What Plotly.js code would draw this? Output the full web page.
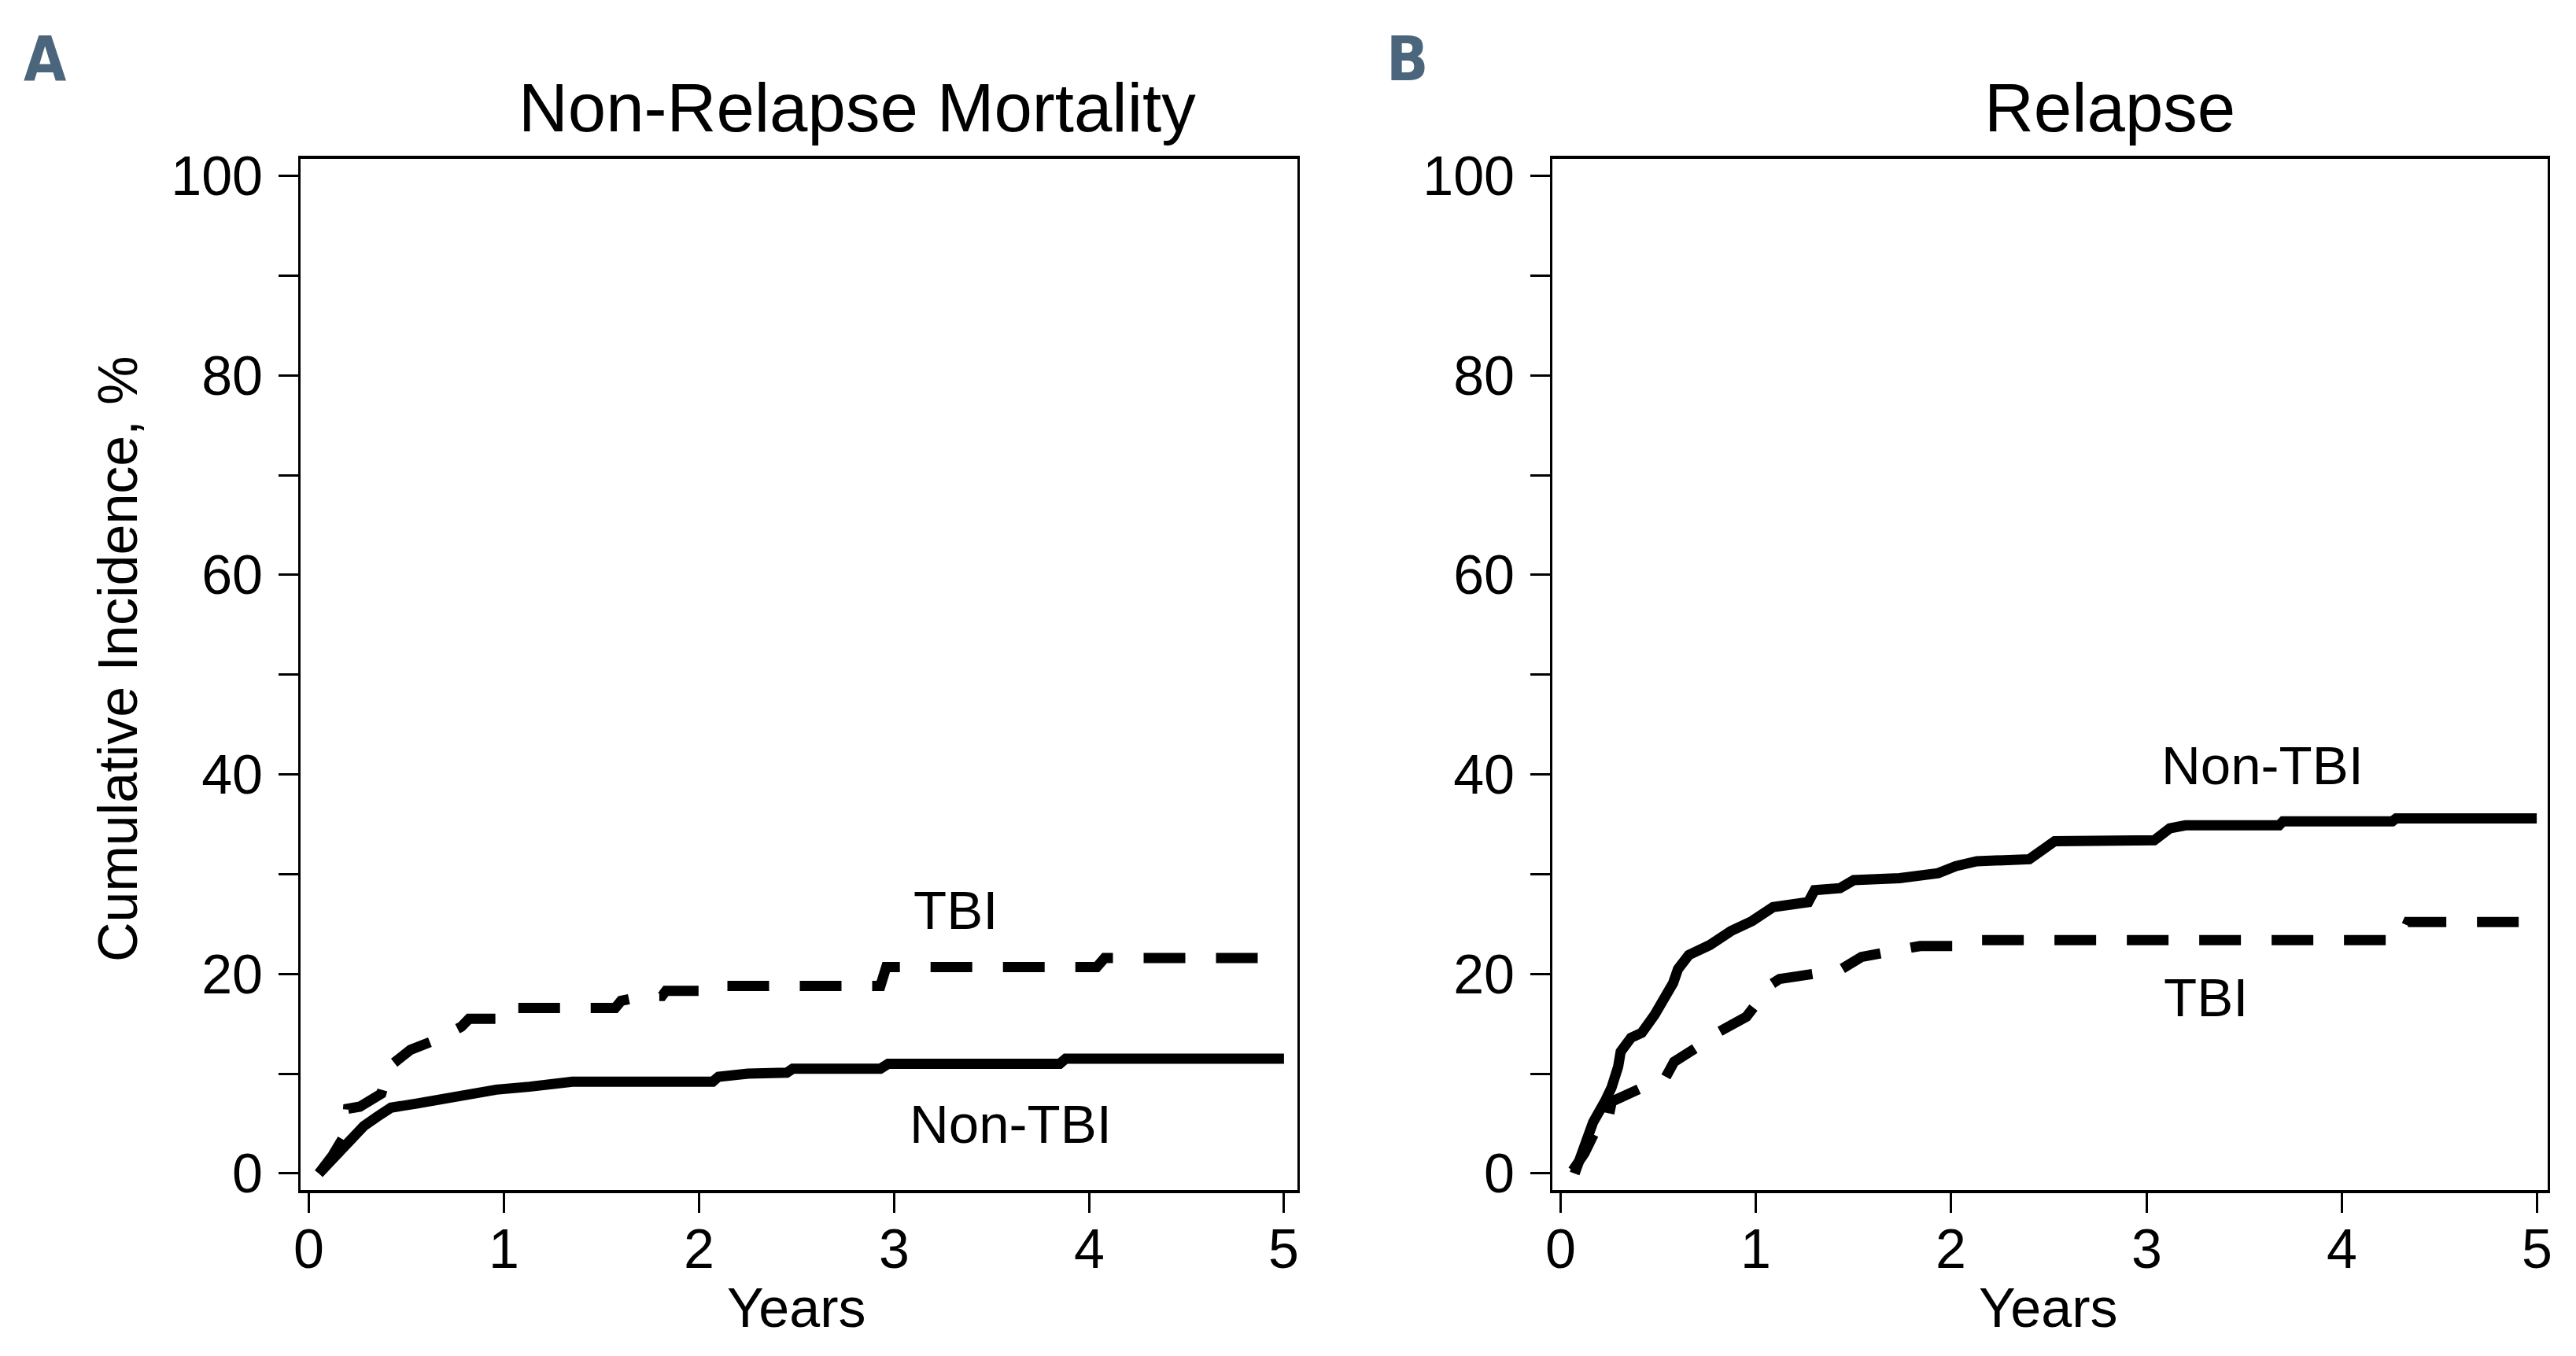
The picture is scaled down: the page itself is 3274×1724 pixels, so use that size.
<!DOCTYPE html>
<html>
<head>
<meta charset="utf-8">
<script src="https://cdn.plot.ly/plotly-3.0.1.min.js"></script>
<style>html,body{margin:0;padding:0;background:#fff;}#chart{width:3274px;height:1724px;}</style>
</head>
<body>
<div id="chart"></div>
<script>
// Panel A: Non-Relapse Mortality
const nrmYearsNonTBI = [0.05,0.11,0.19,0.28,0.35,0.42,0.55,0.69,0.82,0.96,1.13,1.26,1.35,2.07,2.10,2.25,2.45,2.48,2.93,2.97,3.85,3.88,5.0];
const nrmNonTBI      = [0,1.2,3.1,4.75,5.7,6.6,7.0,7.5,8.0,8.4,8.7,9.0,9.2,9.2,9.7,10.0,10.1,10.5,10.5,11.0,11.0,11.5,11.5];
const nrmYearsTBI = [0.05,0.12,0.19,0.20,0.26,0.37,0.41,0.52,0.65,0.78,0.82,0.98,1.00,1.57,1.60,1.72,1.81,1.83,2.02,2.05,2.93,2.96,4.04,4.08,5.0];
const nrmTBI      = [0,1.8,4.1,6.5,6.7,8.0,10.7,12.4,13.4,14.7,15.5,15.5,16.6,16.6,17.3,17.8,17.8,18.3,18.3,18.8,18.8,20.7,20.7,21.6,21.6];

// Panel B: Relapse
const relYearsNonTBI = [0.07,0.117,0.165,0.226,0.259,0.293,0.306,0.359,0.414,0.48,0.535,0.575,0.60,0.655,0.763,0.871,0.979,1.087,1.267,1.30,1.43,1.50,1.735,1.933,2.023,2.131,2.40,2.49,2.53,3.04,3.12,3.20,3.68,3.70,4.26,4.28,5.0];
const relNonTBI      = [0,2.3,5.15,7.25,8.6,10.7,12.2,13.6,14.1,15.9,17.8,19.1,20.5,21.9,22.9,24.3,25.3,26.7,27.2,28.4,28.6,29.4,29.6,30.1,30.8,31.3,31.5,32.8,33.3,33.4,34.6,34.9,34.9,35.3,35.3,35.6,35.6];
const relYearsTBI = [0.06,0.12,0.17,0.23,0.26,0.37,0.45,0.53,0.58,0.71,0.80,0.95,1.02,1.08,1.12,1.27,1.43,1.54,1.70,1.84,2.04,2.15,4.30,4.34,5.0];
const relTBI      = [0.3,2.0,4.0,4.3,7.2,8.3,8.9,9.4,11.2,12.8,14.1,15.7,17.5,19.0,19.5,19.85,20.4,21.7,22.4,22.8,22.8,23.4,23.4,25.2,25.2];

const panelTitles = ["Non-Relapse Mortality", "Relapse"];
const panelLetters = ["A", "B"];
const yTickVals = [0,10,20,30,40,50,60,70,80,90,100];
const yTickText = ["0","","20","","40","","60","","80","","100"];
const xTickVals = [0,1,2,3,4,5];
const xTickText = ["0","1","2","3","4","5"];
const xTitle = "Years";
const yTitle = "Cumulative Incidence, %";
const groupLabels = ["TBI", "Non-TBI"];

const FONT = "Liberation Sans, Arial, Helvetica, sans-serif";
const solid = {color:"#000", width:13, dash:"solid"};
const dashed = {color:"#000", width:13, dash:"53px,39px"};

const traces = [
  {x:nrmYearsNonTBI, y:nrmNonTBI, mode:"lines", line:solid, xaxis:"x", yaxis:"y", name:"Non-TBI"},
  {x:nrmYearsTBI, y:nrmTBI, mode:"lines", line:dashed, xaxis:"x", yaxis:"y", name:"TBI"},
  {x:relYearsNonTBI, y:relNonTBI, mode:"lines", line:solid, xaxis:"x2", yaxis:"y2", name:"Non-TBI"},
  {x:relYearsTBI, y:relTBI, mode:"lines", line:dashed, xaxis:"x2", yaxis:"y2", name:"TBI"}
];

function xax(domain, range, anchor){
  return {domain:domain, range:range, anchor:anchor, showgrid:false, zeroline:false,
    showline:true, linecolor:"#000", linewidth:4, mirror:true,
    ticks:"outside", ticklen:25, tickwidth:3, tickcolor:"#000",
    tickvals:xTickVals, showticklabels:false, fixedrange:true};
}
function yax(domain, range, anchor){
  return {domain:domain, range:range, anchor:anchor, showgrid:false, zeroline:false,
    showline:true, linecolor:"#000", linewidth:3, mirror:true,
    ticks:"outside", ticklen:25, tickwidth:3, tickcolor:"#000",
    tickvals:yTickVals, ticktext:yTickText,
    tickfont:{family:FONT, size:70, color:"#000"}, ticklabelstandoff:6, fixedrange:true};
}

const W = 3274, H = 1724;
const yDom = [1-1513/H, 1-202/H];
const ann = [];
// panel titles
ann.push({text:panelTitles[0], xref:"paper", yref:"paper", x:1089/W, y:1-136/H, xanchor:"center", yanchor:"middle", showarrow:false, font:{family:FONT, size:87, color:"#000"}});
ann.push({text:panelTitles[1], xref:"paper", yref:"paper", x:2681/W, y:1-136/H, xanchor:"center", yanchor:"middle", showarrow:false, font:{family:FONT, size:87, color:"#000"}});
// panel letters
ann.push({text:"<b>"+panelLetters[0]+"</b>", xref:"paper", yref:"paper", x:28/W, y:1-75/H, xanchor:"left", yanchor:"middle", showarrow:false, font:{family:"Liberation Sans Narrow, DejaVu Sans Condensed, Arial Narrow, sans-serif", size:78, color:"#4b657c"}});
ann.push({text:"<b>"+panelLetters[1]+"</b>", xref:"paper", yref:"paper", x:1760/W, y:1-75/H, xanchor:"left", yanchor:"middle", showarrow:false, font:{family:"Liberation Sans Narrow, DejaVu Sans Condensed, Arial Narrow, sans-serif", size:78, color:"#4b657c"}});
// x tick labels (placed on the library's x scales)
["x","x2"].forEach(function(ax){
  xTickVals.forEach(function(v, i){
    ann.push({text:xTickText[i], xref:ax, yref:"paper", x:v, y:1-1588/H, xanchor:"center", yanchor:"middle", showarrow:false, font:{family:FONT, size:70, color:"#000"}});
  });
});
// axis titles
ann.push({text:yTitle, xref:"paper", yref:"paper", x:150/W, y:1-838/H, xanchor:"center", yanchor:"middle", textangle:-90, showarrow:false, font:{family:FONT, size:70, color:"#000"}});
ann.push({text:xTitle, xref:"paper", yref:"paper", x:1012/W, y:1-1663/H, xanchor:"center", yanchor:"middle", showarrow:false, font:{family:FONT, size:70, color:"#000"}});
ann.push({text:xTitle, xref:"paper", yref:"paper", x:2603/W, y:1-1663/H, xanchor:"center", yanchor:"middle", showarrow:false, font:{family:FONT, size:70, color:"#000"}});
// group labels
ann.push({text:groupLabels[0], xref:"x", yref:"y", x:3.09, y:26.4, xanchor:"left", yanchor:"middle", showarrow:false, font:{family:FONT, size:69, color:"#000"}});
ann.push({text:groupLabels[1], xref:"x", yref:"y", x:3.07, y:4.9, xanchor:"left", yanchor:"middle", showarrow:false, font:{family:FONT, size:69, color:"#000"}});
ann.push({text:groupLabels[1], xref:"x2", yref:"y2", x:3.07, y:40.9, xanchor:"left", yanchor:"middle", showarrow:false, font:{family:FONT, size:69, color:"#000"}});
ann.push({text:groupLabels[0], xref:"x2", yref:"y2", x:3.08, y:17.6, xanchor:"left", yanchor:"middle", showarrow:false, font:{family:FONT, size:69, color:"#000"}});

const layout = {
  width:W, height:H, margin:{l:0,r:0,t:0,b:0}, showlegend:false,
  paper_bgcolor:"#fff", plot_bgcolor:"#fff",
  xaxis: xax([382/W, 1649/W], [-0.044, 5.069], "y"),
  yaxis: yax(yDom, [-1.66, 101.7], "x"),
  xaxis2: xax([1973/W, 3238/W], [-0.044, 5.056], "y2"),
  yaxis2: yax(yDom, [-1.66, 101.7], "x2"),
  annotations: ann
};
Plotly.newPlot("chart", traces, layout, {displayModeBar:false, staticPlot:true});
</script>
</body>
</html>
